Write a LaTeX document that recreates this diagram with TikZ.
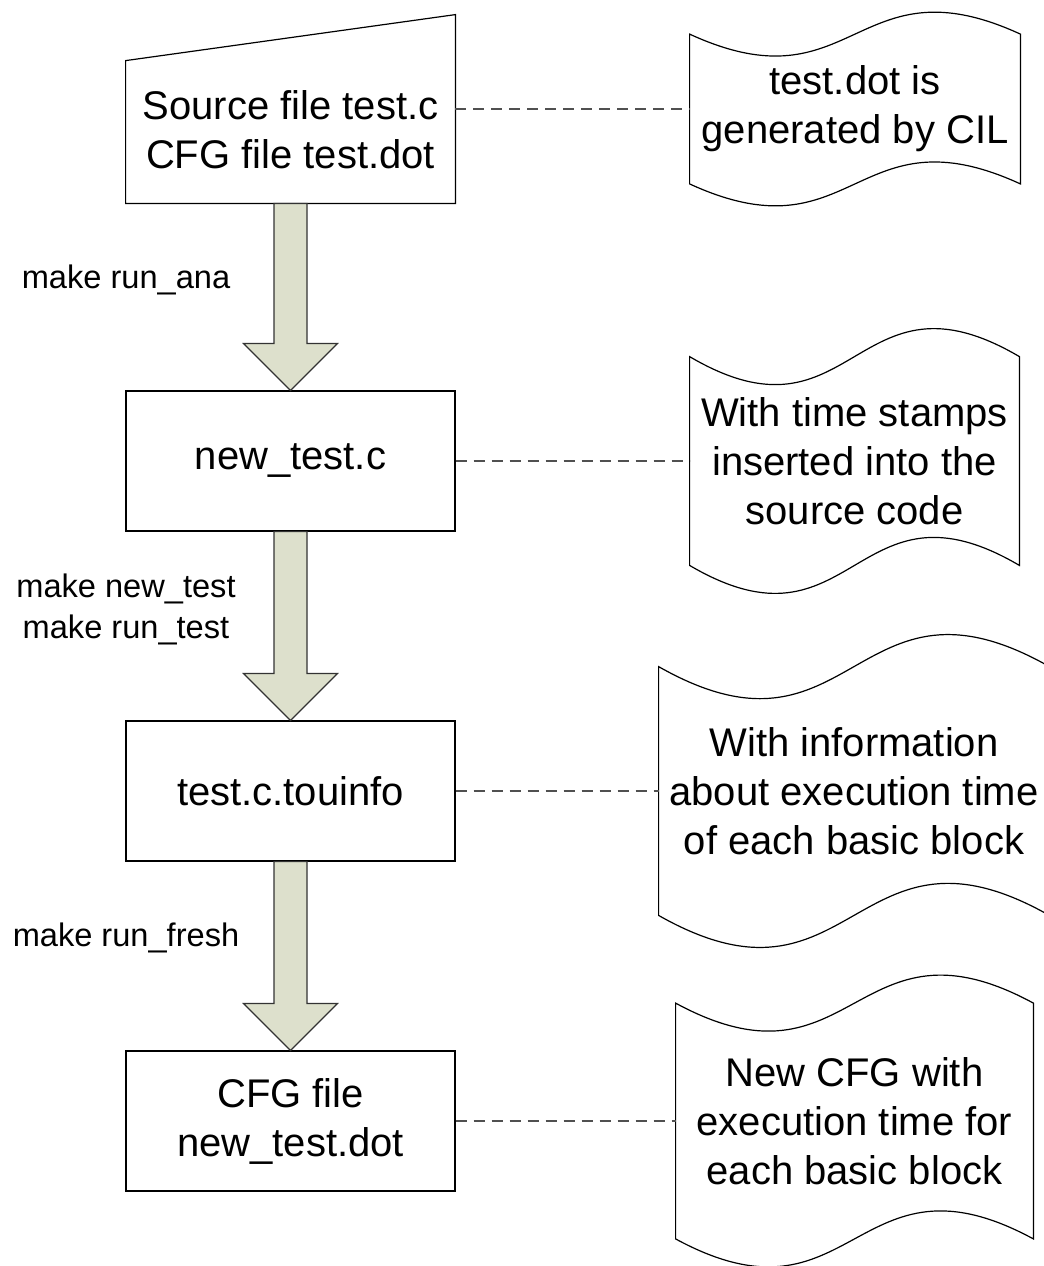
\documentclass[tikz,border=0pt]{standalone}
\usepackage{fontspec}
\setmainfont{Liberation Sans}
\usetikzlibrary{calc}
\pgfdeclarelayer{background}
\pgfsetlayers{background,main}
\definecolor{arrowfill}{RGB}{221,224,204}
\definecolor{dashgray}{RGB}{80,80,80}
\newcommand\bigtxt{\fontsize{20}{24.5}\selectfont}
\newcommand\smalltxt{\fontsize{16.3}{20.5}\selectfont}
\newcommand\tapepath[2]{%
  \draw[tapeline] (#1.north west) .. controls ($(#1.north)+(0,#2)$) and ($(#1.north)+(0,-#2)$) .. (#1.north east)
    -- (#1.south east) .. controls ($(#1.south)+(0,-#2)$) and ($(#1.south)+(0,#2)$) .. (#1.south west) -- cycle;}
\newcommand\bigarrow[2]{%
  \draw[arrowshape] ($(#1.south)+(-16.5,0)$) -- ($(#2.north)+(-16.5,-47)$) -- ($(#2.north)+(-47,-47)$)
    -- (#2.north) -- ($(#2.north)+(47,-47)$) -- ($(#2.north)+(16.5,-47)$) -- ($(#1.south)+(16.5,0)$) -- cycle;}
\begin{document}
\begin{tikzpicture}[x=0.5pt,y=-0.5pt,
  boxnode/.style={draw=black, line width=0.6pt, fill=white, minimum width=164.5pt, minimum height=70pt, align=center, font=\bigtxt, inner sep=0pt},
  shapenode/.style={minimum width=164.5pt, inner sep=0pt},
  txtnode/.style={align=center, font=\bigtxt, inner sep=0pt},
  tapenode/.style={align=center, font=\bigtxt, inner sep=0pt},
  tapeline/.style={draw=black, line width=0.6pt, fill=white},
  arrowshape/.style={draw=black!80, line width=0.6pt, fill=arrowfill, line join=miter},
  dashline/.style={draw=dashgray, line width=0.6pt, dash pattern=on 5.5pt off 3.5pt},
  lbl/.style={align=center, font=\smalltxt, inner sep=0pt}]
\useasboundingbox (0,0) rectangle (1044,1266);

% left column
\node[shapenode, minimum height=94pt] (b1) at (290.5,109) {};
\node[txtnode] (t1) at (290.5,130) {Source file test.c\\CFG file test.dot};
\node[boxnode] (b2) at (290.5,461) {new\_test.c};
\node[boxnode] (b3) at (290.5,791) {test.c.touinfo};
\node[boxnode] (b4) at (290.5,1121) {CFG file\\new\_test.dot};

% labels
\node[lbl] (l1) at (126,280) {make run\_ana};
\node[lbl] (l2) at (126,609) {make new\_test\\make run\_test};
\node[lbl] (l3) at (126,938) {make run\_fresh};

% right column tapes
\node[tapenode, minimum width=165pt, minimum height=74.5pt] (d1) at (855,109) {test.dot is\\generated by CIL};
\node[tapenode, minimum width=164.5pt, minimum height=104pt] (d2) at (854.5,461) {With time stamps\\inserted into the\\source code};
\node[tapenode, minimum width=195pt, minimum height=124pt] (d3) at (854,791) {With information\\about execution time\\of each basic block};
\node[tapenode, minimum width=178.5pt, minimum height=117.5pt] (d4) at (854.5,1121) {New CFG with\\execution time for\\each basic block};

\begin{pgfonlayer}{background}
\fill[white] (0,0) rectangle (1044,1266);
\draw[tapeline] (b1.south west) -- (b1.south east) -- (b1.north east) -- ($(b1.north west)+(0,46)$) -- cycle;
\tapepath{d1}{76}
\tapepath{d2}{97}
\tapepath{d3}{111}
\tapepath{d4}{97}
\end{pgfonlayer}

% big arrows
\bigarrow{b1}{b2}
\bigarrow{b2}{b3}
\bigarrow{b3}{b4}

% dashed connectors
\draw[dashline] (b1.east) -- (d1.west);
\draw[dashline] (b2.east) -- (d2.west);
\draw[dashline] (b3.east) -- (d3.west);
\draw[dashline] (b4.east) -- (d4.west);
\end{tikzpicture}
\end{document}
